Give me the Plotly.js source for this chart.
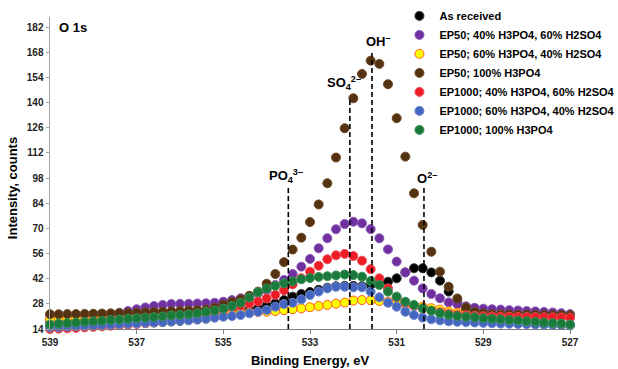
<!DOCTYPE html>
<html>
<head>
<meta charset="utf-8">
<script src="https://cdn.plot.ly/plotly-3.0.1.min.js"></script>
<style>html,body{margin:0;padding:0;background:#fff;}#chart{width:618px;height:369px;}</style>
</head>
<body>
<div id="chart"></div>
<script>
// Binding energy (eV), 0.2 eV steps from 539 to 527
const energy = [539.0,538.8,538.6,538.4,538.2,538.0,537.8,537.6,537.4,537.2,537.0,
  536.8,536.6,536.4,536.2,536.0,535.8,535.6,535.4,535.2,535.0,
  534.8,534.6,534.4,534.2,534.0,533.8,533.6,533.4,533.2,533.0,
  532.8,532.6,532.4,532.2,532.0,531.8,531.6,531.4,531.2,531.0,
  530.8,530.6,530.4,530.2,530.0,529.8,529.6,529.4,529.2,529.0,
  528.8,528.6,528.4,528.2,528.0,527.8,527.6,527.4,527.2,527.0];

const seriesNames = ["As received","EP50; 40% H3PO4, 60% H2SO4","EP50; 60% H3PO4, 40% H2SO4",
  "EP50; 100% H3PO4","EP1000; 40% H3PO4, 60% H2SO4","EP1000; 60% H3PO4, 40% H2SO4","EP1000; 100% H3PO4"];

const asReceived = [14.5,14.7,14.9,15.1,15.3,15.5,15.8,16.1,16.4,16.7,17.0,
  17.3,17.6,17.9,18.2,18.5,18.9,19.3,19.8,20.6,21.5,
  22.6,23.6,24.5,25.5,27.0,28.3,30.1,32.0,33.5,34.6,
  35.8,37.0,37.8,38.0,38.0,37.8,38.5,39.4,40.3,42.2,
  45.5,47.8,47.8,45.5,40.9,34.8,29.0,24.5,21.5,19.5,
  18.5,18.0,17.6,17.3,17.1,16.9,16.7,16.5,16.4,16.2];

const ep50_40_60 = [18.5,18.8,19.2,19.6,20.0,20.6,21.3,22.2,23.0,24.0,25.0,
  26.0,26.8,27.4,27.9,28.0,28.0,28.2,28.3,28.6,29.2,
  30.1,31.1,32.0,33.9,35.7,38.5,41.3,44.6,48.7,53.0,
  58.9,64.5,69.5,72.4,73.7,72.8,69.6,64.5,58.3,51.5,
  45.5,40.9,36.6,33.5,31.1,28.8,27.8,26.6,25.8,25.3,
  25.0,24.8,24.5,24.3,24.0,23.8,23.5,23.2,22.8,22.3];

const ep50_60_40 = [19.5,19.5,19.6,19.6,19.7,19.7,19.8,19.8,19.9,20.0,20.0,
  20.1,20.3,20.5,20.7,20.9,21.1,21.4,21.7,22.0,22.3,
  22.6,22.9,23.2,23.4,23.6,24.0,24.5,25.0,25.5,26.1,
  26.8,27.4,28.1,28.7,29.8,30.1,30.0,29.6,29.2,28.4,
  27.8,27.0,26.4,25.6,24.8,23.8,23.1,22.7,22.4,22.2,
  22.0,21.9,21.8,21.7,21.6,21.5,21.4,21.3,21.1,20.9];

const ep50_100 = [22.2,22.2,22.3,22.3,22.4,22.5,22.6,22.7,22.8,23.0,23.1,
  23.3,23.5,23.7,23.9,24.1,24.3,24.5,24.8,25.8,27.5,
  29.0,30.5,32.5,34.8,39.2,44.6,51.2,58.2,64.8,73.5,
  83.3,95.1,109.4,125.7,142.4,155.9,163.3,161.5,150.2,131.3,
  109.9,89.5,71.9,57.0,45.9,37.5,31.0,26.0,23.6,22.7,
  22.3,22.2,22.1,22.0,22.0,21.9,21.9,21.8,21.8,21.7];

const ep1000_40_60 = [14.0,14.2,14.4,14.6,14.9,15.2,15.5,15.8,16.1,16.5,16.9,
  17.3,17.8,18.4,19.0,19.7,20.5,21.4,22.4,23.5,24.8,
  26.0,27.0,28.2,29.3,31.0,33.0,35.5,38.8,42.3,45.9,
  49.2,52.8,55.0,55.8,54.6,52.0,47.3,42.2,36.6,31.5,
  28.5,26.8,25.3,24.2,23.3,22.5,22.0,21.6,21.3,21.1,
  21.0,20.9,20.8,20.7,20.6,20.6,20.5,20.5,20.4,20.3];

const ep1000_60_40 = [15.0,15.1,15.3,15.5,15.7,15.9,16.2,16.5,16.7,17.0,17.2,
  17.5,17.7,18.0,18.3,18.6,19.0,19.4,19.8,20.3,20.8,
  21.2,21.8,22.7,23.6,24.6,26.4,27.9,28.6,30.5,32.9,
  34.8,36.6,37.5,37.5,37.2,37.2,34.8,31.6,28.6,26.4,
  23.6,21.8,20.3,19.4,18.8,18.3,18.0,17.8,17.6,17.4,
  17.2,17.0,16.9,16.8,16.7,16.5,16.4,16.3,16.2,16.0];

const ep1000_100 = [16.5,17.0,17.3,17.6,18.0,18.3,18.6,19.0,19.3,19.7,20.0,
  20.3,20.6,21.0,21.5,21.8,22.2,22.7,23.5,24.2,25.3,
  26.8,28.6,31.5,34.5,36.5,38.0,39.4,40.5,41.7,42.4,
  43.0,43.4,43.8,44.3,44.0,43.1,40.7,38.5,34.8,32.0,
  29.2,27.4,25.5,24.2,22.7,21.8,21.2,20.8,20.5,20.0,
  19.7,19.4,19.0,18.7,18.3,18.0,17.6,17.3,17.0,16.5];

const xTicks = [539,537,535,533,531,529,527];
const yTicks = [14,28,42,56,70,84,98,112,126,140,154,168,182];

// peak assignments
const peakLabels = ["PO<sub>4</sub><sup>3–</sup>","SO<sub>4</sub><sup>2–</sup>","OH<sup>–</sup>","O<sup>2–</sup>"];
const peakEnergy = [533.5, 532.08, 531.57, 530.37];
const peakLineTop = [94, 143, 167.5, 94];

const allSeries = [asReceived, ep50_40_60, ep50_60_40, ep50_100, ep1000_40_60, ep1000_60_40, ep1000_100];
const fills = ["#000000","#7030a0","#ffff00","#553311","#ee1c25","#4466c0","#1a7a3c"];
const edges = ["#333333","#8a5ab5","#ff5a1a","#6e4a28","#f0505a","#6f88cc","#3b9157"];

const traces = allSeries.map((ys, i) => ({
  x: energy, y: ys, name: seriesNames[i], type: "scatter", mode: "markers",
  cliponaxis: false,
  marker: {size: 9, color: fills[i], line: {color: edges[i], width: 1}}
}));

const FONT = "Liberation Sans, Arial, sans-serif";

const shapes = peakEnergy.map((e, i) => ({
  type: "line", xref: "x", yref: "y", x0: e, x1: e, y0: 14, y1: peakLineTop[i],
  line: {color: "#000", width: 1.6, dash: "5px,3px"}, layer: "above"
}));

const annotations = [
  {text: "<b>O 1s</b>", xref: "paper", yref: "paper", x: 0.013, y: 0.965, xanchor: "left", yanchor: "middle",
   showarrow: false, font: {family: FONT, size: 13, color: "#000"}},
  {text: "<b>Intensity, counts</b>", xref: "paper", yref: "paper", x: -0.072, y: 0.45, textangle: -90,
   xanchor: "center", yanchor: "middle", showarrow: false, font: {family: FONT, size: 13, color: "#000"}}
];
const labelPos = [[286,176],[344,83],[378,41],[427,178]];
peakLabels.forEach((t, i) => {
  annotations.push({text: "<b>" + t + "</b>", xref: "paper", yref: "paper",
    x: (labelPos[i][0] - 50) / 520, y: (329 - labelPos[i][1]) / 312,
    xanchor: "center", yanchor: "middle", showarrow: false,
    font: {family: FONT, size: 13, color: "#000"}});
});

const layout = {
  width: 618, height: 369,
  margin: {l: 50, r: 48, t: 17, b: 40, pad: 0, autoexpand: false},
  paper_bgcolor: "#fff", plot_bgcolor: "#fff",
  font: {family: FONT, size: 10, color: "#222"},
  showlegend: true,
  legend: {x: 0.672, y: 1.05, xanchor: "left", yanchor: "top", bgcolor: "rgba(0,0,0,0)",
    font: {family: FONT, size: 11, color: "#000", weight: "bold"}, tracegroupgap: 0},
  xaxis: {range: [539, 527], tickvals: xTicks, ticktext: xTicks.map(String),
    showgrid: false, zeroline: false, showline: true, linecolor: "#7f7f7f", linewidth: 1.2,
    ticks: "outside", ticklen: 4, tickcolor: "#7f7f7f",
    tickfont: {family: FONT, size: 10, color: "#222", weight: "bold"},
    title: {text: "<b>Binding Energy, eV</b>", font: {family: FONT, size: 13, color: "#000"}, standoff: 8}},
  yaxis: {range: [14, 187.6], tickvals: yTicks, ticktext: yTicks.map(String),
    showgrid: false, zeroline: false, showline: true, linecolor: "#a6a6a6", linewidth: 1.5,
    ticks: "outside", ticklen: 3, tickcolor: "#a6a6a6",
    tickfont: {family: FONT, size: 10, color: "#222", weight: "bold"}},
  shapes: shapes,
  annotations: annotations
};

Plotly.newPlot("chart", traces, layout, {displayModeBar: false, staticPlot: true});
</script>
</body>
</html>
